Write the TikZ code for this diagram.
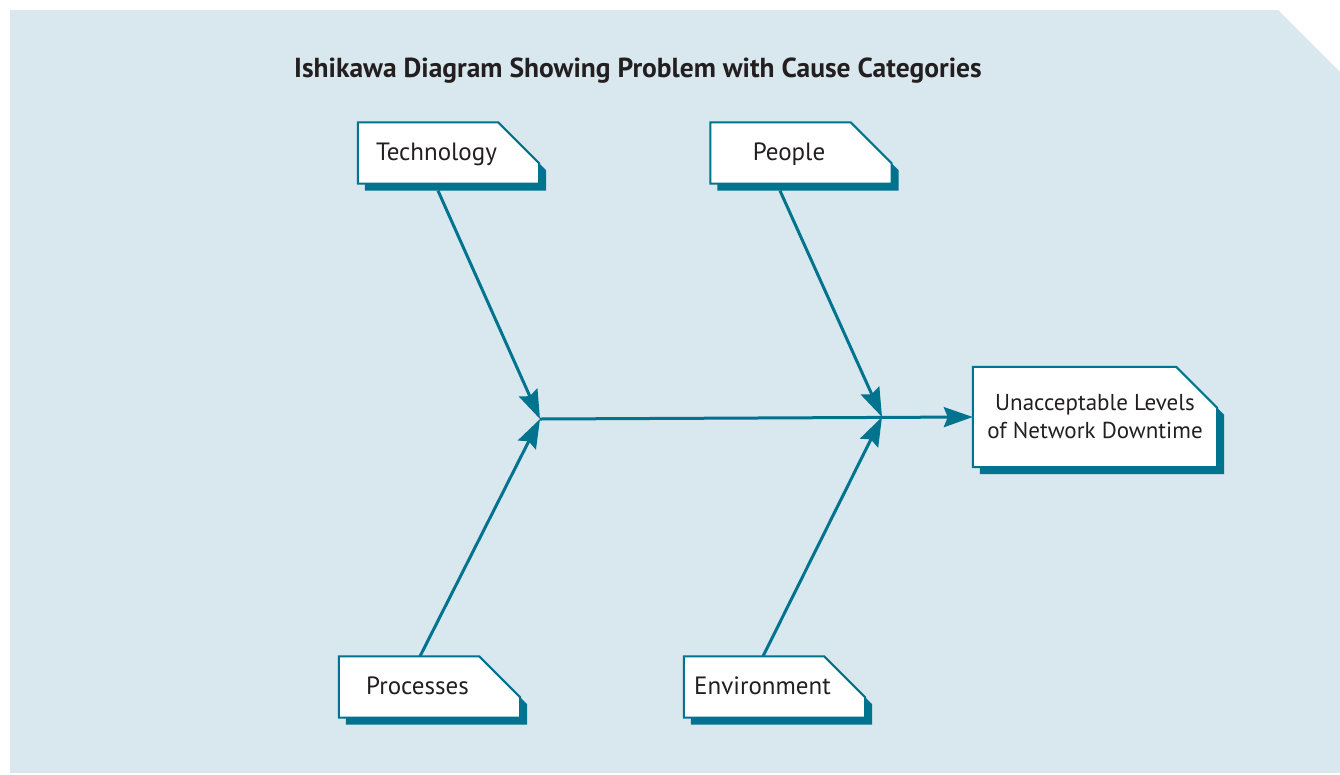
\documentclass[tikz,border=0pt]{standalone}
\usepackage{fontspec}
\setmainfont{PT Sans}
\usetikzlibrary{arrows.meta,backgrounds}

\definecolor{fishteal}{HTML}{00738F}
\definecolor{panelblue}{HTML}{D9E8EF}
\definecolor{inkgrey}{HTML}{231F20}

\tikzset{
  cause/.style={minimum width=157pt, minimum height=61pt, inner sep=0pt,
    font=\fontsize{25}{29}\selectfont, text=inkgrey, text depth=2pt},
  effect/.style={minimum width=244pt, minimum height=100pt, inner sep=0pt,
    align=center, font=\fontsize{23}{28}\selectfont, text=inkgrey},
  bone/.style={draw=fishteal, line width=3pt,
    -{Stealth[length=29pt,width=20pt,inset=4pt]}},
}

% folded-corner card behind a node: #1 node, #2 extra width right of node
\newcommand{\notebox}[2]{%
  \begin{pgfonlayer}{background}
    \fill[fishteal] ([xshift=7pt,yshift=-7pt]#1.south west)
      -- ([xshift=7pt,yshift=-7pt]#1.north west)
      -- ([xshift=#2-34pt,yshift=-7pt]#1.north east)
      -- ([xshift=#2+7pt,yshift=-48pt]#1.north east)
      -- ([xshift=#2+7pt,yshift=-7pt]#1.south east) -- cycle;
    \filldraw[fill=white, draw=fishteal, line width=2pt] (#1.south west)
      -- (#1.north west)
      -- ([xshift=#2-41pt]#1.north east)
      -- ([xshift=#2,yshift=-41pt]#1.north east)
      -- ([xshift=#2]#1.south east) -- cycle;
  \end{pgfonlayer}}

\begin{document}
\begin{tikzpicture}[x=1pt, y=-1pt]
    \useasboundingbox (0,0) rectangle (1340,774);

    % Panel
    \begin{pgfonlayer}{background}
      \fill[panelblue] (10,10) -- (1278,10) -- (1340,72) -- (1340,773) -- (10,773) -- cycle;
    \end{pgfonlayer}

    % Title
    \node[font=\fontsize{27.5}{32}\selectfont\bfseries, text=inkgrey] (title) at (638,71)
      {Ishikawa Diagram Showing Problem with Cause Categories};

    % Cause categories
    \node[cause] (tech) at (436.5,153) {Technology};
    \node[cause] (people) at (789,153) {People};
    \node[cause] (proc) at (417.5,687) {Processes};
    \node[cause] (env) at (762.5,687) {Environment};
    \notebox{tech}{24pt}
    \notebox{people}{24pt}
    \notebox{proc}{24pt}
    \notebox{env}{24pt}

    % Problem
    \node[effect] (effect) at (1095,417) {Unacceptable Levels\\of Network Downtime};
    \notebox{effect}{0pt}

    % Spine junctions
    \coordinate (j1) at (540,419);
    \coordinate (j2) at (882,417);

    % Bones
    \draw[bone] ([xshift=1.5pt,yshift=-7pt]tech.south) -- (j1);
    \draw[bone] ([xshift=-9pt,yshift=-7pt]people.south) -- (j2);
    \draw[bone] ([xshift=2.5pt]proc.north) -- (j1);
    \draw[bone] ([xshift=0.5pt]env.north) -- (j2);
    \draw[bone] (j1) -- (effect.west);
\end{tikzpicture}
\end{document}
